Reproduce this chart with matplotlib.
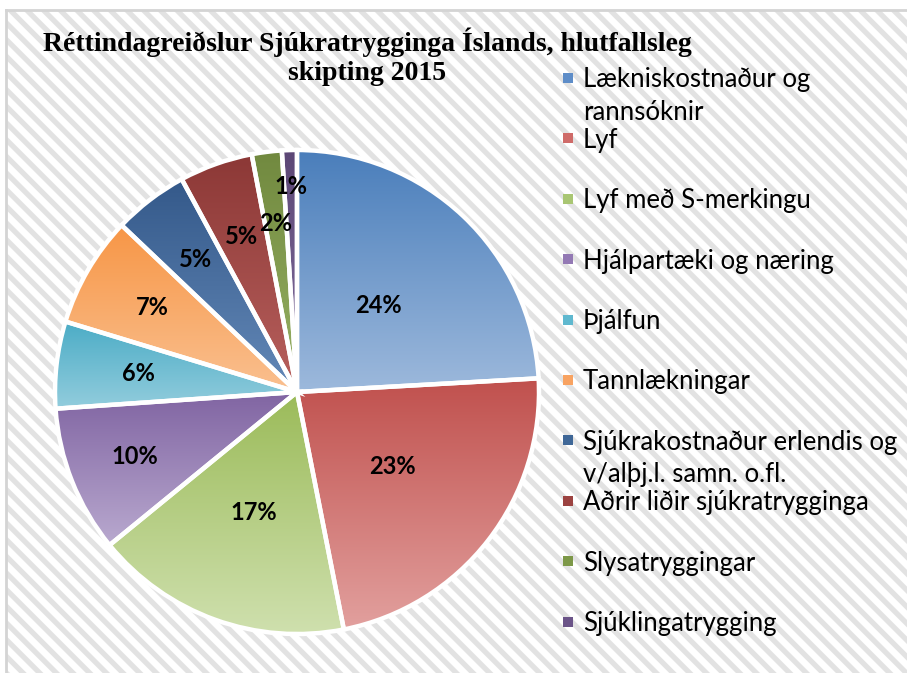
import numpy as np
import matplotlib
matplotlib.use("Agg")
import matplotlib.pyplot as plt
from matplotlib.colors import LinearSegmentedColormap
from matplotlib.patches import Rectangle

# data (percent shares)
categories = ["Lækniskostnaður og\nrannsóknir", "Lyf", "Lyf með S-merkingu",
              "Hjálpartæki og næring", "Þjálfun", "Tannlækningar",
              "Sjúkrakostnaður erlendis og\nv/alþj.l. samn. o.fl.",
              "Aðrir liðir sjúkratrygginga", "Slysatryggingar", "Sjúklingatrygging"]
shares = [24.1, 22.8, 17.2, 9.8, 5.8, 7.4, 5.0, 4.9, 2.0, 1.0]
pct_labels = ["24%", "23%", "17%", "10%", "6%", "7%", "5%", "5%", "2%", "1%"]
title_lines = ["Réttindagreiðslur Sjúkratrygginga Íslands, hlutfallsleg", "skipting 2015"]

# gradient colours: top (dark) -> bottom (light) of every slice
top_cols = ["#4A7EBB", "#C0504D", "#9BBB59", "#8064A2", "#4BACC6",
            "#F79646", "#34598A", "#8C3836", "#71893F", "#5C4776"]
bot_cols = ["#9DB9DC", "#E2A09E", "#CFE0AE", "#B9A9CF", "#93CDDD",
            "#FAC090", "#6489B8", "#B8605D", "#97B164", "#8470A0"]
leg_cols = ["#5E8DC8", "#CF6B69", "#A9C673", "#9379B4", "#5FB8CF",
            "#F8A362", "#3F6797", "#9C4341", "#7D9848", "#6B5488"]
# radial position of the % labels (fraction of radius)
label_r = [0.49, 0.50, 0.53, 0.72, 0.66, 0.69, 0.69, 0.68, 0.70, 0.85]

W, H = 907, 673
plt.rcParams["hatch.linewidth"] = 3.8
fig = plt.figure(figsize=(W / 100, H / 100), dpi=100)

# striped chart background with grey frame
bg = Rectangle((6 / W, 0), 1, 1 - 10 / H, transform=fig.transFigure,
               facecolor="white", edgecolor="#E2E2E2", hatch="\\\\",
               linewidth=0, zorder=-5)
fig.patches.append(bg)
fig.add_artist(plt.Line2D([6 / W, 1], [1 - 10 / H, 1 - 10 / H], color="#D4D4D4",
                          lw=2, transform=fig.transFigure, zorder=-4))
fig.add_artist(plt.Line2D([6 / W, 6 / W], [0, 1 - 10 / H], color="#D4D4D4",
                          lw=2, transform=fig.transFigure, zorder=-4))

# pie axes: centre (297, 392) px, radius 242 px
cx, cy, R = 297, 392, 242
half = 250
ax = fig.add_axes([(cx - half) / W, (H - cy - half) / H, 2 * half / W, 2 * half / H])
ax.patch.set_alpha(0)

wedges, _ = ax.pie(shares, startangle=90, counterclock=False, radius=1,
                   wedgeprops=dict(edgecolor="white", linewidth=3.2, facecolor="none"))
grad = np.linspace(0, 1, 256).reshape(-1, 1)  # light at bottom, dark at top
for w, c1, c2 in zip(wedges, top_cols, bot_cols):
    ext = w.get_path().get_extents()
    cmap = LinearSegmentedColormap.from_list("g", [c2, c1])
    im = ax.imshow(grad, cmap=cmap, vmin=0, vmax=1, aspect="auto",
                   extent=[ext.x0, ext.x1, ext.y0, ext.y1], origin="lower",
                   zorder=1)
    im.set_clip_path(w)
    w.set_zorder(2)
ax.set_xlim(-half / R, half / R)
ax.set_ylim(-half / R, half / R)
ax.set_aspect("equal")
ax.axis("off")

for w, lab, rf in zip(wedges, pct_labels, label_r):
    ang = np.deg2rad((w.theta1 + w.theta2) / 2)
    ax.text(rf * np.cos(ang), rf * np.sin(ang), lab, ha="center", va="center",
            fontsize=17, fontweight="bold", family="Lato", color="black", zorder=3)

# title
for j, line in enumerate(title_lines):
    fig.text(367 / W, 1 - (42 + 31 * j) / H, line, ha="center", va="center",
             fontsize=20, fontweight="bold", family="Liberation Serif")

# legend
for i, (lab, col) in enumerate(zip(categories, leg_cols)):
    y = 80 + 60.4 * i
    fig.patches.append(Rectangle(((568 - 5) / W, 1 - (y + 3) / H), 10 / W, 10 / H,
                                 transform=fig.transFigure, facecolor=col,
                                 edgecolor="none", zorder=3))
    for j, line in enumerate(lab.split("\n")):
        fig.text(583 / W, 1 - (y + 32 * j) / H, line, ha="left", va="center",
                 fontsize=18.5, family="Lato", color="black")

fig.savefig("out.png", dpi=100)
